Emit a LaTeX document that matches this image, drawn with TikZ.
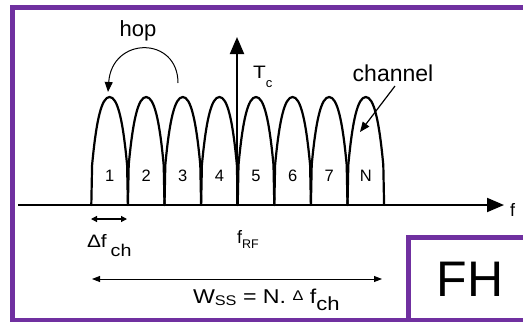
\documentclass[tikz,border=0pt]{standalone}
\usepackage{fontspec}
\setmainfont{Liberation Sans}
\usetikzlibrary{arrows.meta}
\definecolor{fhpurple}{RGB}{112,48,160}
\newcommand\myfs[1]{\fontsize{#1}{#1}\selectfont}
\newcommand\hstretch[1]{\scalebox{1.16}[1]{#1}}
\begin{document}
\begin{tikzpicture}[x=1pt,y=-1pt,
  frame/.style={draw=fhpurple, line width=4.6pt},
  bumpline/.style={line width=2.2pt, line join=round, line cap=round},
  axisline/.style={line width=2pt, -{Triangle[length=17pt,width=14pt]}},
  thinarrow/.style={line width=1pt, -{Triangle[length=10pt,width=8pt]}},
  dimarrow/.style={line width=1.2pt, {Triangle[length=6pt,width=6pt]}-{Triangle[length=6pt,width=6pt]}},
  lbl/.style={inner sep=0pt, outer sep=0pt},
]
\clip (0,0) rectangle (523,322);
\fill[white] (0,0) rectangle (523,322);
% frames
\draw[frame] (12.5,7.5) rectangle (560,320);
\draw[frame, fill=white] (408.5,237.5) rectangle (560,320);
\node[lbl, font=\myfs{50}] (fh) at (470,279.5) {FH};
% channel bumps
\foreach \i in {0,...,7}{
  \pgfmathsetmacro\xa{91.3+36.6*\i}
  \pgfmathsetmacro\xb{\xa+36.6}
  \pgfmathsetmacro\xc{\xa+18.3}
  \draw[bumpline] (\xa,205) -- (\xa+0.8,165) .. controls (\xa+5,120) and (\xc-8,97) .. (\xc,97)
     .. controls (\xc+8,97) and (\xb-5,120) .. (\xb-0.8,165) -- (\xb,205);
}
\foreach \n [count=\k from 0] in {1,2,3,4,5,6,7,N}{
  \pgfmathsetmacro\xc{91.3+18.3+36.6*\k}
  \node[lbl, font=\myfs{16.5}] (n\k) at (\xc,176) {\n};
}
% axes
\coordinate (ha) at (18,205);
\coordinate (hb) at (504,205);
\coordinate (va) at (237,205);
\coordinate (vb) at (237,37);
\draw[axisline] (ha) -- (hb);
\draw[axisline] (va) -- (vb);
\node[lbl, font=\myfs{18}, anchor=base west] (f) at (510,216) {f};
\node[lbl, font=\myfs{18}, anchor=base west] (tc) at (253,78) {\hstretch{T}{\myfs{13}\raisebox{-9pt}{c}}};
% hop
\node[lbl, font=\myfs{22}, anchor=base] (hop) at (138,36.5) {hop};
\coordinate (hs) at (178,83);
\coordinate (he) at (108,92);
\draw[thinarrow] (hs) .. controls (178,36) and (112,36) .. (he);
% channel
\node[lbl, font=\myfs{23}, anchor=base] (chan) at (393,81.5) {channel};
\coordinate (cs) at (395,86);
\coordinate (ce) at (360,132);
\draw[thinarrow, line width=1.2pt] (cs) -- (ce);
% delta f
\coordinate (da) at (91,219);
\coordinate (db) at (127,219);
\draw[dimarrow] (da) -- (db);
\node[lbl, font=\myfs{18}, anchor=base west] (dfch) at (87,247)
  {\hstretch{Δf}\hspace{4pt}{\myfs{17}\raisebox{-9pt}{\hstretch{ch}}}};
\node[lbl, font=\myfs{18}, anchor=base west] (frf) at (237,243) {f{\myfs{12.5}\raisebox{-5pt}{RF}}};
% W_SS
\coordinate (wa) at (92,279);
\coordinate (wb) at (382,279);
\draw[dimarrow, line width=0.9pt, {Triangle[length=8pt,width=6pt]}-{Triangle[length=8pt,width=6pt]}] (wa) -- (wb);
\node[lbl, font=\myfs{20}, anchor=base west] (wss) at (193,303)
  {\hstretch{W{\myfs{14}\raisebox{-2pt}{SS}} = N. {\myfs{14}\raisebox{3pt}{Δ}} f{\myfs{19}\raisebox{-7pt}{ch}}}};
\end{tikzpicture}
\end{document}
